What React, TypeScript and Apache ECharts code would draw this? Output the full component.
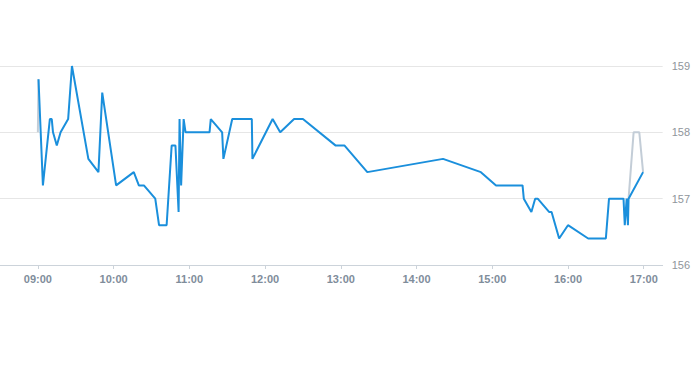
import React, { useEffect, useRef } from "react";
import * as echarts from "echarts";

// Main price line (time "HH:MM[:SS]", price)
const mainTimes = [
  "09:00:30", "09:04", "09:09:30", "09:11", "09:12", "09:15", "09:18", "09:24", "09:27",
  "09:40", "09:48", "09:51", "10:02", "10:16", "10:20", "10:24", "10:33", "10:36",
  "10:42", "10:46", "10:49", "10:51:30", "10:52:15", "10:53:30", "10:55:30", "10:57",
  "11:16", "11:17", "11:26", "11:27", "11:34", "11:49:30", "11:50", "12:06", "12:12",
  "12:23", "12:30", "12:56", "13:03", "13:21", "14:21", "14:51", "15:03", "15:24",
  "15:25", "15:31", "15:34", "15:36", "15:45", "15:47", "15:53", "16:00", "16:16",
  "16:30", "16:32:30", "16:44", "16:45", "16:46:30", "16:47:30", "16:48", "16:59:30",
];
const mainPrices = [
  158.8, 157.2, 158.2, 158.2, 158.0, 157.8, 158.0, 158.2, 159.0,
  157.6, 157.4, 158.6, 157.2, 157.4, 157.2, 157.2, 157.0, 156.6,
  156.6, 157.8, 157.8, 156.8, 158.2, 157.2, 158.2, 158.0,
  158.0, 158.2, 158.0, 157.6, 158.2, 158.2, 157.6, 158.2, 158.0,
  158.2, 158.2, 157.8, 157.8, 157.4, 157.6, 157.4, 157.2, 157.2,
  157.0, 156.8, 157.0, 157.0, 156.8, 156.8, 156.4, 156.6, 156.4,
  156.4, 157.0, 157.0, 156.6, 157.0, 156.6, 157.0, 157.4,
];

// Auction / off-book segments (grey), null separates segments
const greyTimes = ["09:00", "09:00:30", null, "16:48", "16:52", "16:56:30", "16:59:30"];
const greyPrices = [158.0, 158.8, null, 157.0, 158.0, 158.0, 157.4];

const tickTimes = ["09:00", "10:00", "11:00", "12:00", "13:00", "14:00", "15:00", "16:00", "17:00"];
const axisStart = "08:30";
const axisEnd = "17:15";
const priceMin = 156;
const priceMax = 159;

function toMin(t: string): number {
  const p = t.split(":").map(Number);
  return p[0] * 60 + p[1] + (p[2] || 0) / 60;
}
function fmt(v: number): string {
  const h = Math.floor(v / 60);
  const m = Math.round(v - h * 60);
  return String(h).padStart(2, "0") + ":" + String(m).padStart(2, "0");
}

export default function App() {
  const ref = useRef<HTMLDivElement>(null);
  useEffect(() => {
    if (!ref.current) return;
    const chart = echarts.init(ref.current, undefined, { renderer: "svg" });
    const ticks = tickTimes.map(toMin);
    const font = "'Liberation Sans', Arial, Helvetica, sans-serif";
    chart.setOption({
      animation: false,
      grid: { left: 0, right: 23, top: 66, bottom: 100, containLabel: false },
      xAxis: {
        type: "value",
        min: toMin(axisStart),
        max: toMin(axisEnd),
        axisLine: { show: true, lineStyle: { color: "#ccd3da", width: 1 } },
        axisTick: { show: true, customValues: ticks, length: 4, lineStyle: { color: "#ccd3da" } },
        axisLabel: {
          customValues: ticks,
          formatter: (v: number) => fmt(v),
          color: "#7f8d9b",
          fontSize: 11,
          fontWeight: "bold",
          fontFamily: font,
          margin: 8,
        },
        splitLine: { show: false },
      },
      yAxis: {
        type: "value",
        position: "right",
        min: priceMin,
        max: priceMax,
        interval: 1,
        axisLine: { show: false },
        axisTick: { show: false },
        axisLabel: { color: "#8f959b", fontSize: 11, fontFamily: font, margin: 9 },
        splitLine: { show: true, lineStyle: { color: "#e6e6e6", width: 1 } },
      },
      series: [
        {
          type: "line",
          data: greyTimes.map((t, i) => (t === null ? [null, null] : [toMin(t), greyPrices[i]])),
          showSymbol: false,
          connectNulls: false,
          lineStyle: { color: "#c3cdd7", width: 2 },
          itemStyle: { color: "#c3cdd7" },
        },
        {
          type: "line",
          data: mainTimes.map((t, i) => [toMin(t), mainPrices[i]]),
          showSymbol: false,
          lineStyle: { color: "#1a8fdc", width: 2 },
          itemStyle: { color: "#1a8fdc" },
        },
      ],
    });
    return () => chart.dispose();
  }, []);
  return (
    <div
      ref={ref}
      style={{ position: "fixed", left: 0, top: 0, width: 693, height: 365, background: "#fff" }}
    />
  );
}
